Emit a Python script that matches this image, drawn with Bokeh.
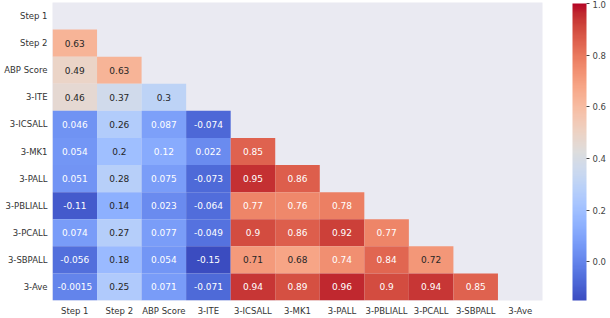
import numpy as np
from bokeh.plotting import figure
from bokeh.models import (ColumnDataSource, FactorRange, LinearColorMapper, ColorBar,
                          FixedTicker, PrintfTickFormatter)
from bokeh.core.properties import value
from bokeh.embed import file_html
from bokeh.resources import INLINE

labels = ["Step 1", "Step 2", "ABP Score", "3-ITE", "3-ICSALL", "3-MK1",
          "3-PALL", "3-PBLIALL", "3-PCALL", "3-SBPALL", "3-Ave"]

# lower triangle of the correlation matrix, row by row (row i has i values)
row_step2 = [0.63]
row_abp = [0.49, 0.63]
row_ite = [0.46, 0.37, 0.3]
row_icsall = [0.046, 0.26, 0.087, -0.074]
row_mk1 = [0.054, 0.2, 0.12, 0.022, 0.85]
row_pall = [0.051, 0.28, 0.075, -0.073, 0.95, 0.86]
row_pbliall = [-0.11, 0.14, 0.023, -0.064, 0.77, 0.76, 0.78]
row_pcall = [0.074, 0.27, 0.077, -0.049, 0.9, 0.86, 0.92, 0.77]
row_sbpall = [-0.056, 0.18, 0.054, -0.15, 0.71, 0.68, 0.74, 0.84, 0.72]
row_ave = [-0.0015, 0.25, 0.071, -0.071, 0.94, 0.89, 0.96, 0.9, 0.94, 0.85]
rows = [[], row_step2, row_abp, row_ite, row_icsall, row_mk1, row_pall,
        row_pbliall, row_pcall, row_sbpall, row_ave]

cbar_ticks = [0.0, 0.2, 0.4, 0.6, 0.8, 1.0]
vmin, vmax = -0.15, 1.0

# coolwarm colormap control colours (Moreland)
cw = [(59,76,192),(68,90,204),(77,104,215),(87,117,225),(98,130,234),(108,142,241),
      (119,154,247),(130,165,251),(141,176,254),(152,185,255),(163,194,255),(174,201,253),
      (184,208,249),(194,213,244),(204,217,238),(213,219,230),(221,221,221),(229,216,209),
      (236,211,197),(241,204,185),(245,196,173),(247,187,160),(247,177,148),(247,166,135),
      (244,154,123),(241,141,111),(236,127,99),(229,112,88),(222,96,77),(213,80,66),
      (203,62,56),(192,40,47),(180,4,38)]
cw = np.array(cw, dtype=float)
pos = np.linspace(0, 1, len(cw))
t = np.linspace(0, 1, 256)
pal_rgb = np.stack([np.interp(t, pos, cw[:, k]) for k in range(3)], axis=1)
palette = ["#%02x%02x%02x" % tuple(int(round(c)) for c in rgb) for rgb in pal_rgb]

def lum(rgb):
    c = np.array(rgb) / 255.0
    c = np.where(c <= 0.03928, c / 12.92, ((c + 0.055) / 1.055) ** 2.4)
    return 0.2126 * c[0] + 0.7152 * c[1] + 0.0722 * c[2]

xs, ys, vals, txt, tcol = [], [], [], [], []
for i, r in enumerate(rows):
    for j, v in enumerate(r):
        xs.append(labels[j]); ys.append(labels[i]); vals.append(v)
        txt.append("{:.2g}".format(v))
        idx = int(np.clip((v - vmin) / (vmax - vmin) * 255, 0, 255))
        tcol.append("#262626" if lum(pal_rgb[idx]) > 0.408 else "#ffffff")

src = ColumnDataSource(dict(x=xs, y=ys, v=vals, t=txt, tc=tcol))
mapper = LinearColorMapper(palette=palette, low=vmin, high=vmax)

p = figure(width=610, height=318, output_backend="svg", toolbar_location=None,
           x_range=FactorRange(*labels), y_range=FactorRange(*labels[::-1]),
           min_border_left=52, min_border_right=68, min_border_top=2, min_border_bottom=18)
p.background_fill_color = "#eaeaf2"
p.border_fill_color = "white"
p.outline_line_color = None
p.grid.visible = False

p.rect(x="x", y="y", width=1, height=1, source=src,
       fill_color={"field": "v", "transform": mapper}, line_color=None)
p.text(x="x", y="y", text="t", source=src, text_align="center", text_baseline="middle",
       text_color="tc", text_font_size="9px", text_font=value("DejaVu Sans"))

for ax in (p.xaxis[0], p.yaxis[0]):
    ax.axis_line_color = None
    ax.major_tick_line_color = None
    ax.minor_tick_line_color = None
    ax.major_tick_out = 0
    ax.major_tick_in = 0
    ax.major_label_text_font = "DejaVu Sans"
    ax.major_label_text_font_size = "8.5px"
    ax.major_label_text_color = "#333333"
p.xaxis.major_label_standoff = 5
p.yaxis.major_label_standoff = 5

cb = ColorBar(color_mapper=mapper, ticker=FixedTicker(ticks=cbar_ticks),
              formatter=PrintfTickFormatter(format="%.1f"),
              width=14, height=297, padding=0, margin=0, location=(30, 0),
              major_tick_in=0, major_tick_out=3, major_tick_line_color="#444444",
              minor_tick_line_color=None, label_standoff=3,
              major_label_text_font="DejaVu Sans", major_label_text_font_size="8.5px",
              major_label_text_color="#444444", bar_line_color=None,
              background_fill_alpha=0, border_line_color=None)
p.add_layout(cb, "right")

open("out.html", "w").write(file_html(p, INLINE))
